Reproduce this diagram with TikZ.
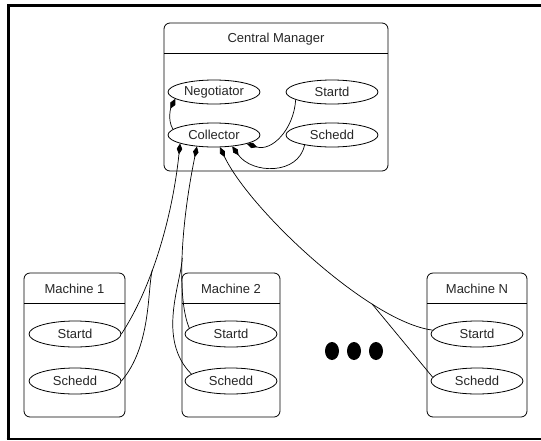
\documentclass[tikz,border=0pt]{standalone}
\usepackage{fontspec}
\setmainfont{Liberation Sans}
\usetikzlibrary{arrows.meta,shapes.geometric}
\tikzset{
	txt/.style={font=\fontsize{13pt}{15pt}\selectfont, text=black!85},
	daemon/.style={txt, draw, ellipse, line width=0.8pt, minimum width=92pt, minimum height=24pt, inner sep=0pt},
	mdaemon/.style={daemon, minimum height=26pt},
	box/.style={line width=0.8pt, rounded corners=6pt},
	wire/.style={line width=0.7pt},
	conn/.style={wire, -{Kite[length=11pt,width=5.5pt,inset=5.5pt]}}
}

\begin{document}
\begin{tikzpicture}[x=1pt, y=-1pt]
			%%%%% START %%%%%
			\useasboundingbox (0,0) rectangle (541,440);
			
			\draw[line width=3pt] (541,5.5) -- (8,5.5) -- (8,438);
			\draw[line width=2pt] (6.5,438.5) -- (541,438.5);
			
			% central manager
			\draw[box] (164,23) rectangle (388,171);
			\draw[line width=0.8pt] (164,53) -- (388,53);
			\node[txt] (cmtitle) at (276,39) {Central Manager};
			
			\node[daemon] (neg) at (214,92) {Negotiator};
			\node[daemon] (cstartd) at (332,92) {Startd};
			\node[daemon] (coll) at (214,135) {Collector};
			\node[daemon] (cschedd) at (332,135) {Schedd};
			
			% machines
			\draw[box] (24,273) rectangle (125,417);
			\draw[line width=0.8pt] (24,303) -- (125,303);
			\node[txt] (m1title) at (74.5,289) {Machine 1};
			\node[mdaemon] (m1startd) at (75,334) {Startd};
			\node[mdaemon] (m1schedd) at (75,381) {Schedd};
			
			\draw[box] (182,273) rectangle (280,417);
			\draw[line width=0.8pt] (182,303) -- (280,303);
			\node[txt] (m2title) at (231,289) {Machine 2};
			\node[mdaemon] (m2startd) at (231,334) {Startd};
			\node[mdaemon] (m2schedd) at (231,381) {Schedd};
			
			\draw[box] (427,273) rectangle (527,417);
			\draw[line width=0.8pt] (427,303) -- (527,303);
			\node[txt] (mntitle) at (477,289) {Machine N};
			\node[mdaemon] (mnstartd) at (477,334) {Startd};
			\node[mdaemon] (mnschedd) at (477,381) {Schedd};
			
			\fill (332,351) ellipse (7 and 9);
			\fill (354,351) ellipse (7 and 9);
			\fill (376,351) ellipse (7 and 9);
			
			% inside the manager
			\draw[conn] (coll.172) .. controls +(-6,-10) and +(-4,8) .. (neg.190);
			\draw[conn] (cstartd.192) .. controls +(-2,30) and +(25,8) .. (coll.-15);
			\draw[conn] (cschedd.200) .. controls +(-6,30) and +(20,28) .. (coll.-32);
			
			% machines to collector
			\draw[conn] (m1startd.east) .. controls +(29,-44) and +(-8,77) .. coordinate[pos=0.4] (m1join) (coll.194);
			\draw[wire] (m1schedd.east) .. controls +(30,-35) and +(-5,20) .. (m1join);
			
			\draw[conn] (m2startd.172) .. controls +(-12,-28) and +(-17,83) .. coordinate[pos=0.5] (m2join) (coll.214);
			\draw[wire] (m2schedd.170) .. controls +(-35,-35) and +(-1,25) .. (m2join);
			
			\draw[conn] (mnstartd.175) .. controls +(-63,-8) and +(30,63) .. coordinate[pos=0.27] (mnjoin) (coll.-64);
			\draw[wire] (mnschedd.175) -- (mnjoin);
			
			%%%%% END %%%%%
\end{tikzpicture}
\end{document}
